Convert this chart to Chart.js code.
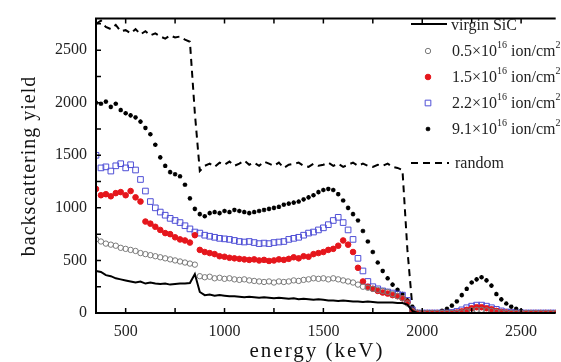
<!DOCTYPE html>
<html>
<head>
<meta charset="utf-8">
<script src="https://cdn.jsdelivr.net/npm/chart.js@4.4.1/dist/chart.umd.min.js"></script>
<style>
  html, body { margin: 0; padding: 0; background: #fff; }
  #wrap { width: 561px; height: 362px; position: relative; }
</style>
</head>
<body>
<div id="wrap"><canvas id="rbsChart"></canvas></div>
<script>
// energy channels (keV)
const energy = [
  350, 375, 400, 425, 450, 475, 500, 525, 550, 575,
  600, 625, 650, 675, 700, 725, 750, 775, 800, 825,
  850, 875, 900, 925, 950, 975, 1000, 1025, 1050, 1075,
  1100, 1125, 1150, 1175, 1200, 1225, 1250, 1275, 1300, 1325,
  1350, 1375, 1400, 1425, 1450, 1475, 1500, 1525, 1550, 1575,
  1600, 1625, 1650, 1675, 1700, 1725, 1750, 1775, 1800, 1825,
  1850, 1875, 1900, 1925, 1950, 1975, 2000, 2025, 2050, 2075,
  2100, 2125, 2150, 2175, 2200, 2225, 2250, 2275, 2300, 2325,
  2350, 2375, 2400, 2425, 2450, 2475, 2500, 2525, 2550, 2575,
  2600, 2625, 2650, 2675
];

const virginSiC = [
  400, 390, 360, 350, 330, 320, 310, 300, 290, 300,
  280, 290, 280, 275, 280, 270, 275, 280, 280, 285,
  370, 200, 170, 175, 165, 170, 165, 160, 160, 155,
  150, 155, 150, 145, 150, 145, 140, 145, 140, 135,
  140, 130, 135, 130, 125, 130, 125, 120, 120, 115,
  120, 115, 110, 110, 105, 110, 105, 100, 100, 100,
  100, 95, 95, 80, 20, 0, 0, 0, 0, 0,
  0, 0, 0, 0, 0, 0, 0, 0, 0, 0,
  0, 0, 0, 0, 0, 0, 0, 0, 0, 0,
  0, 0, 0, 0
];

const dose05 = [
  700, 680, 660, 650, 640, 620, 610, 600, 590, 570,
  560, 550, 540, 530, 520, 510, 500, 490, 480, 470,
  460, 350, 340, 345, 330, 335, 325, 330, 320, 315,
  320, 310, 305, 300, 295, 300, 290, 300, 295, 300,
  310, 305, 315, 320, 330, 325, 330, 320, 330, 320,
  310, 300, 290, 270, 250, 240, 230, 220, 210, 200,
  180, 160, 140, 90, 20, 0, 0, 0, 0, 0,
  0, 0, 0, 0, 5, 15, 25, 30, 30, 25,
  20, 10, 5, 0, 0, 0, 0, 0, 0, 0,
  0, 0, 0, 0
];

const dose15 = [
  1180, 1120, 1130, 1110, 1140, 1150, 1120, 1160, 1100, 1060,
  870, 850, 820, 790, 760, 750, 720, 700, 690, 670,
  740, 600, 580, 570, 560, 540, 535, 525, 520, 515,
  510, 505, 510, 500, 505, 495, 500, 510, 505, 515,
  530, 520, 540, 535, 560, 570, 580, 600, 610, 640,
  690, 650, 580, 430, 300, 250, 230, 210, 195, 185,
  170, 160, 140, 100, 20, 0, 0, 0, 0, 0,
  0, 0, 0, 5, 15, 30, 45, 55, 55, 45,
  35, 20, 10, 5, 0, 0, 0, 0, 0, 0,
  0, 0, 0, 0
];

const dose22 = [
  1500, 1380, 1390, 1350, 1400, 1420, 1380, 1410, 1360, 1270,
  1160, 1060, 1000, 960, 930, 900, 880, 860, 830, 800,
  770, 760, 740, 730, 720, 710, 705, 700, 690, 680,
  675, 680, 670, 660, 665, 660, 670, 675, 680, 700,
  710, 720, 740, 760, 770, 790, 810, 840, 880, 910,
  860, 790, 700, 520, 400, 300, 250, 230, 210, 200,
  190, 180, 170, 120, 30, 0, 0, 0, 0, 0,
  0, 0, 5, 15, 30, 50, 65, 75, 75, 65,
  50, 35, 20, 10, 5, 0, 0, 0, 0, 0,
  0, 0, 0, 0
];

const dose91 = [
  2000, 1990, 2010, 1960, 1990, 1930, 1900, 1880, 1860, 1820,
  1760, 1700, 1600, 1480, 1400, 1340, 1320, 1300, 1220, 1090,
  990, 940, 920, 950, 960, 950, 970, 960, 980, 970,
  960, 950, 960, 970, 980, 990, 1000, 1010, 1030, 1040,
  1050, 1060, 1080, 1100, 1120, 1150, 1170, 1180, 1170, 1130,
  1070, 1000, 940, 880, 780, 680, 580, 480, 400, 330,
  270, 220, 180, 120, 60, 10, 0, 0, 0, 5,
  20, 40, 70, 110, 170, 230, 290, 320, 340, 310,
  260, 180, 130, 90, 60, 40, 20, 5, 0, 0,
  0, 0, 0, 0
];

const randomSpec = [
  2750, 2780, 2720, 2700, 2740, 2680, 2690, 2660, 2700, 2650,
  2680, 2640, 2660, 2630, 2610, 2640, 2620, 2630, 2600, 2580,
  1900, 1350, 1400, 1420, 1390, 1430, 1410, 1440, 1400, 1420,
  1450, 1410, 1430, 1400, 1440, 1420, 1400, 1430, 1380, 1410,
  1420, 1430, 1400, 1390, 1420, 1400, 1410, 1430, 1400, 1420,
  1390, 1410, 1430, 1400, 1420, 1400, 1390, 1410, 1400, 1420,
  1390, 1380, 1360, 600, 60, 0, 0, 0, 0, 0,
  0, 0, 0, 0, 0, 0, 0, 0, 0, 0,
  0, 0, 0, 0, 0, 0, 0, 0, 0, 0,
  0, 0, 0, 0
];

const xTickLabels = [500, 1000, 1500, 2000, 2500];
const yTickLabels = [0, 500, 1000, 1500, 2000, 2500];

const FONT = '"Liberation Serif", "Times New Roman", serif';
const toPts = (vals) => energy.map((e, i) => ({ x: e, y: vals[i] }));

const GRAY = "#7a7a7a";
const RED = "#e5161c";
const BLUE = "#4f4fd6";

// frame + inward tick marks, drawn from the chart's own scales
const framePlugin = {
  id: "frame",
  afterDraw(chart) {
    const { ctx, chartArea: a, scales } = chart;
    ctx.save();
    ctx.strokeStyle = "#000";
    ctx.lineWidth = 2;
    ctx.beginPath();
    ctx.moveTo(a.right, a.top);
    ctx.lineTo(a.left, a.top);
    ctx.lineTo(a.left, a.bottom);
    ctx.lineTo(a.right, a.bottom);
    ctx.stroke();

    ctx.lineWidth = 1.5;
    ctx.beginPath();
    for (let v = 500; v <= scales.x.max; v += 250) {
      const px = scales.x.getPixelForValue(v);
      ctx.moveTo(px, a.bottom);
      ctx.lineTo(px, a.bottom - 5);
      ctx.moveTo(px, a.top);
      ctx.lineTo(px, a.top + 5);
    }
    for (let v = 250; v <= scales.y.max; v += 250) {
      const py = scales.y.getPixelForValue(v);
      ctx.moveTo(a.left, py);
      ctx.lineTo(a.left + 5, py);
    }
    ctx.stroke();
    ctx.restore();
  },
};

// axis titles
const titlePlugin = {
  id: "titles",
  afterDraw(chart) {
    const { ctx } = chart;
    ctx.save();
    ctx.fillStyle = "#111";
    ctx.textAlign = "center";
    ctx.textBaseline = "middle";
    ctx.font = `21px ${FONT}`;
    ctx.letterSpacing = "2px";
    ctx.fillText("energy (keV)", 317, 351);
    ctx.translate(30, 166);
    ctx.rotate(-Math.PI / 2);
    ctx.font = `20px ${FONT}`;
    ctx.letterSpacing = "1px";
    ctx.fillText("backscattering yield", 0, 0);
    ctx.restore();
  },
};

function drawParts(ctx, x, y, parts) {
  let cx = x;
  parts.forEach(([txt, sup]) => {
    ctx.font = sup ? `10px ${FONT}` : `16px ${FONT}`;
    ctx.fillText(txt, cx, sup ? y - 7 : y);
    cx += ctx.measureText(txt).width;
  });
}

const doseLabels = ["0.5", "1.5", "2.2", "9.1"];

// legend inside the plot (top right)
const legendPlugin = {
  id: "insideLegend",
  afterDraw(chart) {
    const { ctx } = chart;
    ctx.save();
    ctx.fillStyle = "#222";
    ctx.textBaseline = "middle";
    ctx.textAlign = "left";

    // virgin SiC
    ctx.strokeStyle = "#000";
    ctx.lineWidth = 2;
    ctx.beginPath();
    ctx.moveTo(411, 24);
    ctx.lineTo(447, 24);
    ctx.stroke();
    ctx.font = `16px ${FONT}`;
    ctx.fillText("virgin SiC", 451, 26);

    const rowsY = [51, 77, 103, 129];
    const metas = [1, 2, 3, 4];
    metas.forEach((di, k) => {
      const ds = chart.data.datasets[di];
      ctx.save();
      ctx.strokeStyle = ds.borderColor;
      ctx.fillStyle = ds.backgroundColor;
      ctx.lineWidth = ds.borderWidth;
      Chart.helpers.drawPoint(ctx, {
        pointStyle: ds.pointStyle,
        radius: ds.pointRadius,
        borderWidth: ds.borderWidth,
        rotation: 0,
      }, 428, rowsY[k]);
      ctx.restore();
      drawParts(ctx, 452, rowsY[k] + 1, [
        [doseLabels[k] + "\u00d710", false],
        ["16", true],
        [" ion/cm", false],
        ["2", true],
      ]);
    });

    // random
    ctx.setLineDash([7, 5]);
    ctx.beginPath();
    ctx.moveTo(411, 163);
    ctx.lineTo(449, 163);
    ctx.stroke();
    ctx.setLineDash([]);
    ctx.font = `16px ${FONT}`;
    ctx.fillText("random", 455, 164);
    ctx.restore();
  },
};

const canvas = document.getElementById("rbsChart");
new Chart(canvas, {
  type: "scatter",
  data: {
    datasets: [
      {
        label: "virgin SiC",
        data: toPts(virginSiC),
        showLine: true,
        borderColor: "#000",
        borderWidth: 2,
        pointRadius: 0,
      },
      {
        label: "0.5",
        data: toPts(dose05),
        pointStyle: "circle",
        pointRadius: 2.7,
        borderColor: GRAY,
        backgroundColor: "rgba(255,255,255,0)",
        borderWidth: 1,
      },
      {
        label: "1.5",
        data: toPts(dose15),
        pointStyle: "circle",
        pointRadius: 2.8,
        borderColor: RED,
        backgroundColor: RED,
        borderWidth: 1,
      },
      {
        label: "2.2",
        data: toPts(dose22),
        pointStyle: "rect",
        pointRadius: 4,
        borderColor: BLUE,
        backgroundColor: "rgba(255,255,255,0)",
        borderWidth: 1,
      },
      {
        label: "9.1",
        data: toPts(dose91),
        pointStyle: "star",
        pointRadius: 2.3,
        borderColor: "#000",
        backgroundColor: "#000",
        borderWidth: 1.3,
      },
      {
        label: "random",
        data: toPts(randomSpec),
        showLine: true,
        borderColor: "#000",
        borderWidth: 2,
        borderDash: [7, 5],
        pointRadius: 0,
      },
    ],
  },
  options: {
    responsive: true,
    maintainAspectRatio: false,
    animation: false,
    layout: { padding: { top: 13, right: 0, left: 0, bottom: 0 } },
    plugins: { legend: { display: false }, tooltip: { enabled: false } },
    scales: {
      x: {
        type: "linear",
        min: 350,
        max: 2675,
        grid: { display: false, drawTicks: false },
        border: { display: false },
        afterFit: (s) => { s.height = 49; },
        afterBuildTicks: (s) => { s.ticks = xTickLabels.map((v) => ({ value: v })); },
        ticks: {
          padding: 9,
          autoSkip: false,
          maxRotation: 0,
          color: "#222",
          font: { family: FONT, size: 16 },
          callback: (v) => String(v),
        },
      },
      y: {
        min: 0,
        max: 2800,
        grid: { display: false, drawTicks: false },
        border: { display: false },
        afterFit: (s) => { s.width = 96; },
        afterBuildTicks: (s) => { s.ticks = yTickLabels.map((v) => ({ value: v })); },
        ticks: {
          padding: 9,
          autoSkip: false,
          color: "#222",
          font: { family: FONT, size: 16 },
          callback: (v) => String(v),
        },
      },
    },
  },
  plugins: [framePlugin, titlePlugin, legendPlugin],
});
</script>
</body>
</html>
